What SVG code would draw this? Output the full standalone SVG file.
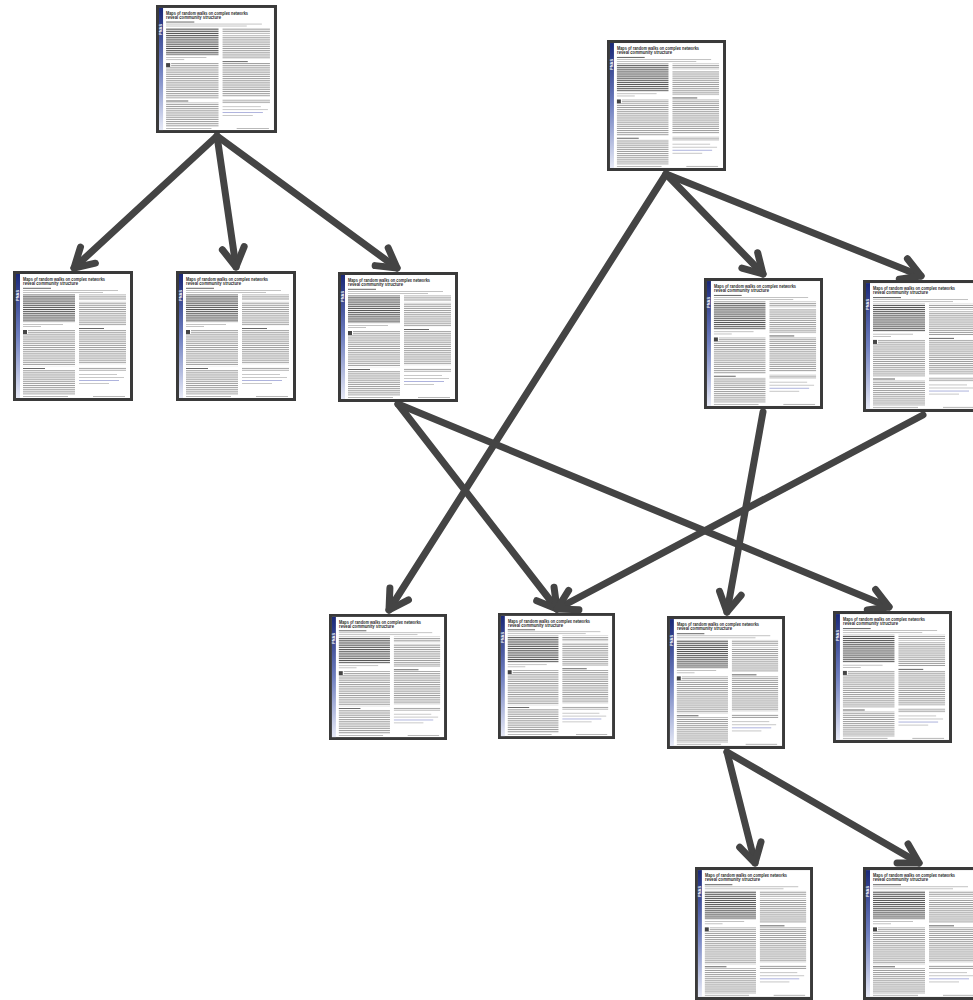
<svg xmlns="http://www.w3.org/2000/svg" xmlns:xlink="http://www.w3.org/1999/xlink" width="973" height="1000" viewBox="0 0 973 1000">
<style>
.t{font-family:"Liberation Sans",Arial,sans-serif;font-weight:bold;font-size:5.6px;fill:#2a2a2a}
.pn{font-family:"Liberation Sans",Arial,sans-serif;font-weight:bold;font-size:4px;fill:#fff}
.edge{fill:none;stroke:#444;stroke-width:7;stroke-linecap:round;marker-end:url(#ah)}
</style>
<defs>
<linearGradient id="strip" x1="0" y1="0" x2="0" y2="1">
<stop offset="0" stop-color="#1a2878"/>
<stop offset="0.5" stop-color="#6f7fc0"/>
<stop offset="1" stop-color="#e6e9f6"/>
</linearGradient>
<pattern id="ln" width="6" height="1.9" patternUnits="userSpaceOnUse">
<rect x="0" y="0" width="6" height="0.9" fill="#999"/>
</pattern>
<pattern id="lnd" width="6" height="1.9" patternUnits="userSpaceOnUse">
<rect x="0" y="0" width="6" height="1" fill="#555"/>
</pattern>
<marker id="ah" markerUnits="userSpaceOnUse" viewBox="-26 -16 31 32" markerWidth="31" markerHeight="32" refX="0" refY="0" orient="auto">
<path d="M-19,-11 L0,0 L-19,11" fill="none" stroke="#444" stroke-width="7" stroke-linecap="round" stroke-linejoin="round"/>
</marker>
<symbol id="page" viewBox="0 0 120 130" preserveAspectRatio="none">
<rect x="1.5" y="1.5" width="117" height="127" fill="#fff" stroke="#3a3a3a" stroke-width="3"/>
<rect x="3" y="3" width="4" height="124" fill="url(#strip)"/>
<rect x="10" y="16.8" width="28" height="1" fill="#666"/>
<rect x="10" y="19" width="95" height="0.7" fill="#aaa"/>
<rect x="10" y="21" width="80" height="0.7" fill="#aaa"/>
<rect x="10" y="23.4" width="52" height="27.7" fill="url(#lnd)"/>
<rect x="66" y="23.4" width="47" height="5.7" fill="url(#ln)"/>
<rect x="66" y="30.8" width="47" height="23.9" fill="url(#ln)"/>
<rect x="10" y="53" width="40" height="0.7" fill="#aaa"/>
<rect x="10" y="55.2" width="18" height="0.7" fill="#aaa"/>
<rect x="10" y="59" width="4" height="4" fill="#444"/>
<rect x="15" y="59" width="47" height="3.8" fill="url(#ln)"/>
<rect x="10" y="62.8" width="52" height="32.3" fill="url(#ln)"/>
<rect x="10" y="97" width="22" height="1" fill="#666"/>
<rect x="10" y="99" width="52" height="24.7" fill="url(#ln)"/>
<rect x="66" y="57" width="25" height="1" fill="#666"/>
<rect x="66" y="58.9" width="47" height="34.2" fill="url(#ln)"/>
<rect x="66" y="96" width="47" height="3.8" fill="url(#ln)"/>
<rect x="66" y="103" width="38" height="0.7" fill="#b0b0b0"/>
<rect x="66" y="106" width="45" height="0.7" fill="#b0b0b0"/>
<rect x="66" y="109" width="40" height="0.7" fill="#8c93cf"/>
<rect x="66" y="112" width="30" height="0.7" fill="#b0b0b0"/>
<rect x="10" y="125" width="45" height="0.7" fill="#999"/>
<rect x="80" y="125" width="32" height="0.7" fill="#999"/>
</symbol>
<g id="title">
<text class="t" x="10" y="9.6" textLength="82" lengthAdjust="spacingAndGlyphs">Maps of random walks on complex networks</text>
<text class="t" x="10" y="14.4" textLength="55" lengthAdjust="spacingAndGlyphs">reveal community structure</text>
<text class="pn" transform="translate(6.3,30) rotate(-90)">PNAS</text>
</g>
</defs>
<g id="connectors">
<line class="edge" x1="217" y1="136" x2="74" y2="268"/>
<line class="edge" x1="217" y1="136" x2="236" y2="267"/>
<line class="edge" x1="217" y1="136" x2="397" y2="268"/>
<line class="edge" x1="666" y1="174" x2="389" y2="610"/>
<line class="edge" x1="666" y1="174" x2="763" y2="274"/>
<line class="edge" x1="666" y1="174" x2="921" y2="276"/>
<line class="edge" x1="398" y1="404" x2="557" y2="609"/>
<line class="edge" x1="398" y1="404" x2="889" y2="607"/>
<line class="edge" x1="763" y1="412" x2="727" y2="612"/>
<line class="edge" x1="923" y1="415" x2="557" y2="609"/>
<line class="edge" x1="727" y1="752" x2="755" y2="863"/>
<line class="edge" x1="727" y1="752" x2="919" y2="863"/>
</g>
<g id="n1" transform="translate(156,5)"><use href="#page" width="121" height="128"/><use href="#title"/></g>
<g id="n2" transform="translate(607,40)"><use href="#page" width="119" height="131"/><use href="#title"/></g>
<g id="n3" transform="translate(13,271)"><use href="#page" width="120" height="130"/><use href="#title"/></g>
<g id="n4" transform="translate(176,271)"><use href="#page" width="120" height="130"/><use href="#title"/></g>
<g id="n5" transform="translate(338,272)"><use href="#page" width="120" height="130"/><use href="#title"/></g>
<g id="n6" transform="translate(704,278)"><use href="#page" width="119" height="131"/><use href="#title"/></g>
<g id="n7" transform="translate(863,280)"><use href="#page" width="120" height="132"/><use href="#title"/></g>
<g id="n8" transform="translate(329,614)"><use href="#page" width="118" height="126"/><use href="#title"/></g>
<g id="n9" transform="translate(498,613)"><use href="#page" width="117" height="126"/><use href="#title"/></g>
<g id="n10" transform="translate(667,616)"><use href="#page" width="118" height="133"/><use href="#title"/></g>
<g id="n11" transform="translate(833,611)"><use href="#page" width="119" height="132"/><use href="#title"/></g>
<g id="n12" transform="translate(695,867)"><use href="#page" width="118" height="133"/><use href="#title"/></g>
<g id="n13" transform="translate(863,867)"><use href="#page" width="120" height="133"/><use href="#title"/></g>
</svg>
